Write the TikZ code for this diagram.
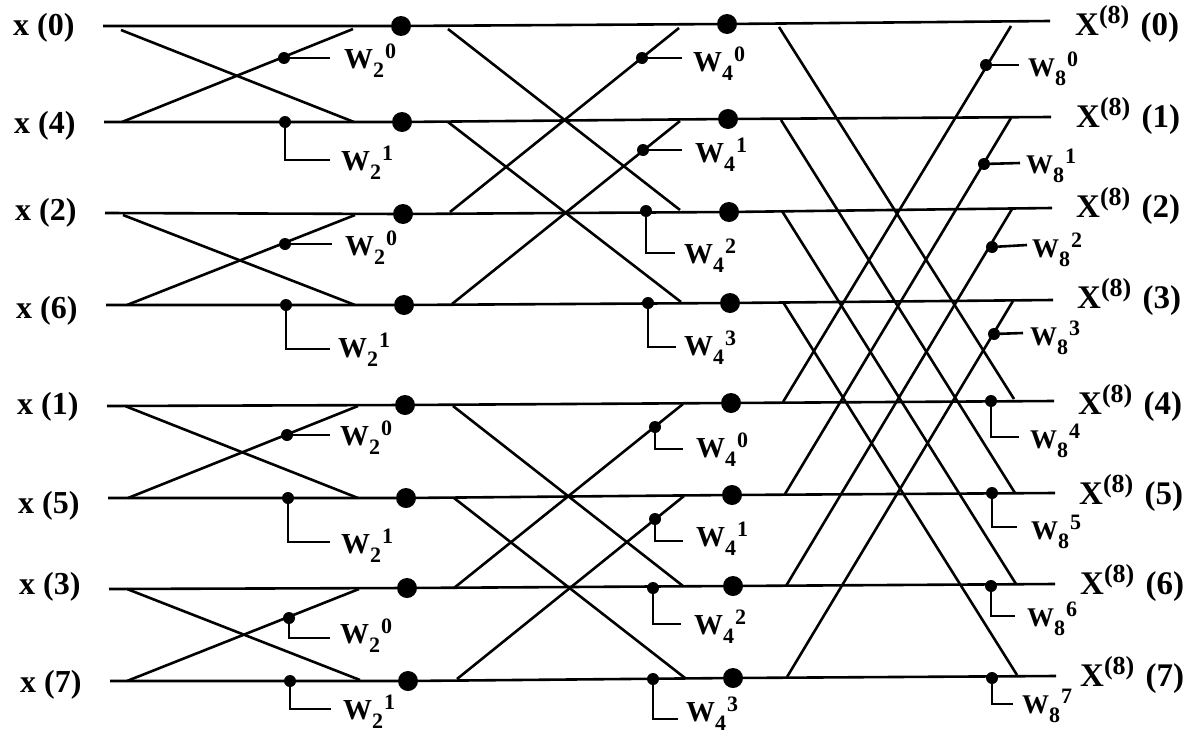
\documentclass[tikz,border=0pt]{standalone}
\usepackage{fontspec}
\setmainfont{Liberation Serif}
\usepackage{tikz}
\newcommand{\twf}[2]{W\raisebox{-9pt}{\fontsize{22}{22}\selectfont #1}\kern1pt\raisebox{10pt}{\fontsize{22}{22}\selectfont #2}}
\newcommand{\outf}[1]{X\raisebox{12pt}{\fontsize{26}{26}\selectfont (8)}\kern3pt\ (#1)}

\begin{document}
\begin{tikzpicture}[
    x=1pt, y=-1pt,
    wire/.style={line width=2.6pt},
    big_node/.style={circle, fill=black, inner sep=0pt, minimum size=20pt},
    tap_node/.style={circle, fill=black, inner sep=0pt, minimum size=12pt},
    in_node/.style={anchor=base west, inner sep=0pt, font=\fontsize{32}{32}\selectfont\bfseries},
    out_node/.style={anchor=base west, inner sep=0pt, font=\fontsize{33}{33}\selectfont\bfseries},
    w_node/.style={anchor=base west, inner sep=0pt, font=\fontsize{29}{29}\selectfont\bfseries},
    ws_node/.style={anchor=base west, inner sep=0pt, font=\fontsize{27}{27}\selectfont\bfseries}
    ]
    \useasboundingbox (0,0) rectangle (1191,736);

    % Input labels
    \node[in_node] (x0) at (13,35) {x (0)};
    \node[in_node] (x4) at (14,133) {x (4)};
    \node[in_node] (x2) at (15,220) {x (2)};
    \node[in_node] (x6) at (16,318) {x (6)};
    \node[in_node] (x1) at (17,414) {x (1)};
    \node[in_node] (x5) at (18,513) {x (5)};
    \node[in_node] (x3) at (19,594) {x (3)};
    \node[in_node] (x7) at (20,692) {x (7)};

    % Output labels
    \node[out_node] (out0) at (1075,35) {\outf{0}};
    \node[out_node] (out1) at (1076,127) {\outf{1}};
    \node[out_node] (out2) at (1076,217) {\outf{2}};
    \node[out_node] (out3) at (1077,308) {\outf{3}};
    \node[out_node] (out4) at (1078,414) {\outf{4}};
    \node[out_node] (out5) at (1079,504) {\outf{5}};
    \node[out_node] (out6) at (1080,594) {\outf{6}};
    \node[out_node] (out7) at (1080,686) {\outf{7}};

    % Line ends
    \coordinate (a0) at (103,26);
    \coordinate (a1) at (104,122);
    \coordinate (a2) at (105,213);
    \coordinate (a3) at (106,305);
    \coordinate (a4) at (107,406);
    \coordinate (a5) at (108,498);
    \coordinate (a6) at (109,589);
    \coordinate (a7) at (110,681);
    \coordinate (r0) at (1050,21);
    \coordinate (r1) at (1051,117);
    \coordinate (r2) at (1052,208);
    \coordinate (r3) at (1053,300);
    \coordinate (r4) at (1054,401);
    \coordinate (r5) at (1055,493);
    \coordinate (r6) at (1055,584);
    \coordinate (r7) at (1056,676);

    % Big dots
    \node[big_node] (p0) at (401,26) {};
    \node[big_node] (p1) at (402,122) {};
    \node[big_node] (p2) at (403,214) {};
    \node[big_node] (p3) at (404,305) {};
    \node[big_node] (p4) at (405,405) {};
    \node[big_node] (p5) at (406,498) {};
    \node[big_node] (p6) at (407,588) {};
    \node[big_node] (p7) at (408,681) {};
    \node[big_node] (q0) at (727,24) {};
    \node[big_node] (q1) at (728,119) {};
    \node[big_node] (q2) at (729,212) {};
    \node[big_node] (q3) at (730,303) {};
    \node[big_node] (q4) at (731,403) {};
    \node[big_node] (q5) at (732,495) {};
    \node[big_node] (q6) at (733,586) {};
    \node[big_node] (q7) at (733,678) {};

    % Horizontal lines
    \draw[wire] (a0) -- (p0) -- (q0) -- (r0);
    \draw[wire] (a1) -- (p1) -- (q1) -- (r1);
    \draw[wire] (a2) -- (p2) -- (q2) -- (r2);
    \draw[wire] (a3) -- (p3) -- (q3) -- (r3);
    \draw[wire] (a4) -- (p4) -- (q4) -- (r4);
    \draw[wire] (a5) -- (p5) -- (q5) -- (r5);
    \draw[wire] (a6) -- (p6) -- (q6) -- (r6);
    \draw[wire] (a7) -- (p7) -- (q7) -- (r7);

    % First stage crossings
    \coordinate (b0) at (121,30); \coordinate (c0) at (354,122);
    \coordinate (b1) at (122,122); \coordinate (c1) at (353,29);
    \coordinate (b2) at (123,215); \coordinate (c2) at (355,305);
    \coordinate (b3) at (127,305); \coordinate (c3) at (355,215);
    \coordinate (b4) at (125,406); \coordinate (c4) at (358,498);
    \coordinate (b5) at (128,498); \coordinate (c5) at (358,406);
    \coordinate (b6) at (127,589); \coordinate (c6) at (360,680);
    \coordinate (b7) at (127,681); \coordinate (c7) at (359,589);
    \draw[wire] (b0) -- (c0);
    \draw[wire] (b1) -- (c1);
    \draw[wire] (b2) -- (c2);
    \draw[wire] (b3) -- (c3);
    \draw[wire] (b4) -- (c4);
    \draw[wire] (b5) -- (c5);
    \draw[wire] (b6) -- (c6);
    \draw[wire] (b7) -- (c7);

    % Second stage crossings
    \coordinate (d0) at (448,29); \coordinate (e0) at (680,210);
    \coordinate (d1) at (448,122); \coordinate (e1) at (681,302);
    \coordinate (d2) at (450,212); \coordinate (e2) at (679,28);
    \coordinate (d3) at (452,304); \coordinate (e3) at (680,121);
    \coordinate (d4) at (453,406); \coordinate (e4) at (683,586);
    \coordinate (d5) at (454,498); \coordinate (e5) at (685,678);
    \coordinate (d6) at (454,588); \coordinate (e6) at (683,404);
    \coordinate (d7) at (457,679); \coordinate (e7) at (684,496);
    \draw[wire] (d0) -- (e0);
    \draw[wire] (d1) -- (e1);
    \draw[wire] (d2) -- (e2);
    \draw[wire] (d3) -- (e3);
    \draw[wire] (d4) -- (e4);
    \draw[wire] (d5) -- (e5);
    \draw[wire] (d6) -- (e6);
    \draw[wire] (d7) -- (e7);

    % Third stage crossings
    \coordinate (f0) at (779,27); \coordinate (g0) at (1014,399);
    \coordinate (f1) at (781,120); \coordinate (g1) at (1015,493);
    \coordinate (f2) at (782,211); \coordinate (g2) at (1016,584);
    \coordinate (f3) at (783,302); \coordinate (g3) at (1017,675);
    \coordinate (f4) at (783,402); \coordinate (g4) at (1011,26);
    \coordinate (f5) at (785,494); \coordinate (g5) at (1011,118);
    \coordinate (f6) at (786,586); \coordinate (g6) at (1012,209);
    \coordinate (f7) at (787,677); \coordinate (g7) at (1013,301);
    \draw[wire] (f0) -- (g0);
    \draw[wire] (f1) -- (g1);
    \draw[wire] (f2) -- (g2);
    \draw[wire] (f3) -- (g3);
    \draw[wire] (f4) -- (g4);
    \draw[wire] (f5) -- (g5);
    \draw[wire] (f6) -- (g6);
    \draw[wire] (f7) -- (g7);

    % First stage factors
    \node[tap_node] (s0) at (284,58) {}; \coordinate (h0) at (330,58);
    \node[tap_node] (s1) at (285,122) {}; \coordinate (h1) at (330,160);
    \node[tap_node] (s2) at (285,244) {}; \coordinate (h2) at (332,244);
    \node[tap_node] (s3) at (286,305) {}; \coordinate (h3) at (330,349);
    \node[tap_node] (s4) at (287,435) {}; \coordinate (h4) at (330,435);
    \node[tap_node] (s5) at (288,498) {}; \coordinate (h5) at (330,542);
    \node[tap_node] (s6) at (289,618) {}; \coordinate (h6) at (330,638);
    \node[tap_node] (s7) at (290,681) {}; \coordinate (h7) at (331,709);
    \draw[wire] (s0) -- (h0);
    \draw[wire] (s1) |- (h1);
    \draw[wire] (s2) -- (h2);
    \draw[wire] (s3) |- (h3);
    \draw[wire] (s4) -- (h4);
    \draw[wire] (s5) |- (h5);
    \draw[wire] (s6) |- (h6);
    \draw[wire] (s7) |- (h7);
    \node[w_node] (w0) at (344,68) {\twf{2}{0}};
    \node[w_node] (w1) at (341,170) {\twf{2}{1}};
    \node[w_node] (w2) at (345,255) {\twf{2}{0}};
    \node[w_node] (w3) at (338,357) {\twf{2}{1}};
    \node[w_node] (w4) at (340,445) {\twf{2}{0}};
    \node[w_node] (w5) at (341,553) {\twf{2}{1}};
    \node[w_node] (w6) at (340,643) {\twf{2}{0}};
    \node[w_node] (w7) at (343,719) {\twf{2}{1}};

    % Second stage factors
    \node[tap_node] (t0) at (642,58) {}; \coordinate (i0) at (682,58);
    \node[tap_node] (t1) at (643,150) {}; \coordinate (i1) at (682,150);
    \node[tap_node] (t2) at (646,211) {}; \coordinate (i2) at (675,253);
    \node[tap_node] (t3) at (648,303) {}; \coordinate (i3) at (676,347);
    \node[tap_node] (t4) at (655,427) {}; \coordinate (i4) at (683,449);
    \node[tap_node] (t5) at (655,519) {}; \coordinate (i5) at (683,541);
    \node[tap_node] (t6) at (653,588) {}; \coordinate (i6) at (681,624);
    \node[tap_node] (t7) at (653,679) {}; \coordinate (i7) at (678,719);
    \draw[wire] (t0) -- (i0);
    \draw[wire] (t1) -- (i1);
    \draw[wire] (t2) |- (i2);
    \draw[wire] (t3) |- (i3);
    \draw[wire] (t4) |- (i4);
    \draw[wire] (t5) |- (i5);
    \draw[wire] (t6) |- (i6);
    \draw[wire] (t7) |- (i7);
    \node[w_node] (v0) at (693,71) {\twf{4}{0}};
    \node[w_node] (v1) at (695,162) {\twf{4}{1}};
    \node[w_node] (v2) at (684,263) {\twf{4}{2}};
    \node[w_node] (v3) at (684,355) {\twf{4}{3}};
    \node[w_node] (v4) at (696,457) {\twf{4}{0}};
    \node[w_node] (v5) at (696,546) {\twf{4}{1}};
    \node[w_node] (v6) at (694,634) {\twf{4}{2}};
    \node[w_node] (v7) at (686,721) {\twf{4}{3}};

    % Third stage factors
    \node[tap_node] (u0) at (986,65) {}; \coordinate (j0) at (1019,65);
    \node[tap_node] (u1) at (984,164) {}; \coordinate (j1) at (1020,163);
    \node[tap_node] (u2) at (992,247) {}; \coordinate (j2) at (1027,245);
    \node[tap_node] (u3) at (994,334) {}; \coordinate (j3) at (1023,333);
    \node[tap_node] (u4) at (991,401) {}; \coordinate (j4) at (1019,437);
    \node[tap_node] (u5) at (992,493) {}; \coordinate (j5) at (1017,527);
    \node[tap_node] (u6) at (991,586) {}; \coordinate (j6) at (1015,616);
    \node[tap_node] (u7) at (992,678) {}; \coordinate (j7) at (1013,704);
    \draw[wire] (u0) -- (j0);
    \draw[wire] (u1) -- (j1);
    \draw[wire] (u2) -- (j2);
    \draw[wire] (u3) -- (j3);
    \draw[wire] (u4) |- (j4);
    \draw[wire] (u5) |- (j5);
    \draw[wire] (u6) |- (j6);
    \draw[wire] (u7) |- (j7);
    \node[ws_node] (y0) at (1028,76) {\twf{8}{0}};
    \node[ws_node] (y1) at (1026,173) {\twf{8}{1}};
    \node[ws_node] (y2) at (1032,257) {\twf{8}{2}};
    \node[ws_node] (y3) at (1030,345) {\twf{8}{3}};
    \node[ws_node] (y4) at (1030,448) {\twf{8}{4}};
    \node[ws_node] (y5) at (1031,539) {\twf{8}{5}};
    \node[ws_node] (y6) at (1027,626) {\twf{8}{6}};
    \node[ws_node] (y7) at (1022,713) {\twf{8}{7}};
\end{tikzpicture}
\end{document}
